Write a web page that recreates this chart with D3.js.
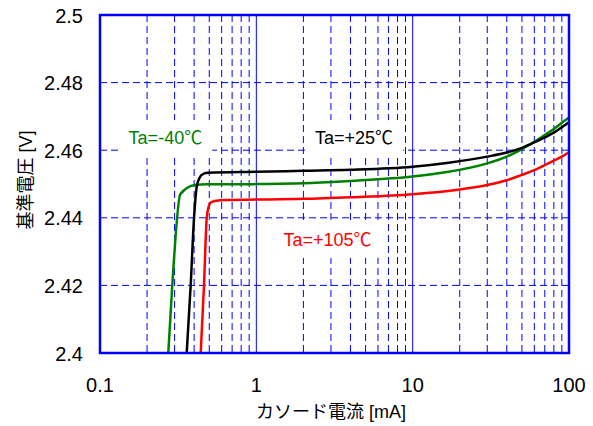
<!DOCTYPE html>
<html>
<head>
<meta charset="utf-8">
<script src="https://cdn.jsdelivr.net/npm/d3@7"></script>
<style>
body { margin: 0; background: #fff; }
</style>
</head>
<body>
<div id="chart"></div>
<script>
//////////
// Data //
//////////

// Ta=-40C
var currentCold = [0.2734, 0.290, 0.3265, 0.405, 0.4815, 0.911, 1, 2, 4, 10, 17, 30, 40, 50, 60, 70, 80, 90, 100];
var voltageCold = [2.4, 2.4201, 2.4470, 2.4497, 2.4499, 2.4499, 2.4500, 2.4502, 2.4509, 2.4522, 2.4536, 2.4561, 2.4581, 2.4603, 2.4625, 2.4645, 2.4663, 2.4681, 2.4697];

// Ta=+25C
var currentRoom = [0.3586, 0.3803, 0.3994, 0.4156, 0.4318, 0.4579, 0.4929, 1, 2, 4, 10, 17, 30, 40, 50, 60, 70, 80, 90, 100];
var voltageRoom = [2.4, 2.4201, 2.4399, 2.4492, 2.4517, 2.4530, 2.4533, 2.4536, 2.4539, 2.4542, 2.4551, 2.4563, 2.4581, 2.4593, 2.4607, 2.4623, 2.4638, 2.4652, 2.4668, 2.4683];

// Ta=+105C
var currentHot = [0.4407, 0.4627, 0.4815, 0.4958, 0.5106, 0.5441, 0.6463, 1, 2, 4, 10, 20, 30, 40, 50, 60, 70, 80, 90, 100];
var voltageHot = [2.4, 2.4201, 2.4399, 2.4433, 2.4445, 2.4450, 2.4453, 2.4454, 2.4456, 2.4461, 2.4470, 2.4484, 2.4497, 2.4511, 2.4527, 2.4541, 2.4556, 2.4569, 2.4581, 2.4594];

// Axis ticks
var xTicks = [0.1, 1, 10, 100];
var xTickLabels = ["0.1", "1", "10", "100"];
var xMinorTicks = [0.2, 0.3, 0.4, 0.5, 0.6, 0.7, 0.8, 0.9, 2, 3, 4, 5, 6, 7, 8, 9, 20, 30, 40, 50, 60, 70, 80, 90];
var xMajorGrid = [1, 10];
var yTicks = [2.4, 2.42, 2.44, 2.46, 2.48, 2.5];
var yTickLabels = ["2.4", "2.42", "2.44", "2.46", "2.48", "2.5"];
var yGrid = [2.42, 2.44, 2.46, 2.48];

// Series labels
var seriesNames = ["Ta=-40\u2103", "Ta=+25\u2103", "Ta=+105\u2103"];
var seriesColors = ["#008000", "#000000", "#ff0000"];
var labelCurrent = [0.262, 4.21, 2.85];
var labelVoltage = [2.4618, 2.4618, 2.4317];

///////////////////
// Initial setup //
///////////////////

var width = 593;
var height = 426;
var margin = {top: 15, right: 24, bottom: 73, left: 100};
var plotW = width - margin.left - margin.right;
var plotH = height - margin.top - margin.bottom;
var latin = "'Liberation Sans', Arial, 'Noto Sans CJK JP', sans-serif";

var svg = d3.select("#chart").append("svg")
	.attr("width", width).attr("height", height);

var g = svg.append("g")
	.attr("transform", "translate(" + margin.left + "," + margin.top + ")");

var x = d3.scaleLog().domain([0.1, 100]).range([0, plotW]);
var y = d3.scaleLinear().domain([2.4, 2.5]).range([plotH, 0]);

// Grid
g.selectAll("line.vminor").data(xMinorTicks).enter().append("line")
	.attr("x1", function(d) { return x(d); })
	.attr("x2", function(d) { return x(d); })
	.attr("y1", 0).attr("y2", plotH)
	.attr("stroke", "#0000ff").attr("stroke-width", 1)
	.attr("stroke-dasharray", "7,4");

g.selectAll("line.vmajor").data(xMajorGrid).enter().append("line")
	.attr("x1", function(d) { return x(d); })
	.attr("x2", function(d) { return x(d); })
	.attr("y1", 0).attr("y2", plotH)
	.attr("stroke", "#0000ff").attr("stroke-width", 1);

g.selectAll("line.hgrid").data(yGrid).enter().append("line")
	.attr("x1", 0).attr("x2", plotW)
	.attr("y1", function(d) { return y(d); })
	.attr("y2", function(d) { return y(d); })
	.attr("stroke", "#0000ff").attr("stroke-width", 1)
	.attr("stroke-dasharray", "7,4");

// Label boxes (hide grid behind text)
var labels = g.selectAll("g.lbl").data(seriesNames).enter().append("g");
var labelTexts = labels.append("text")
	.text(function(d) { return d; })
	.attr("x", function(d, i) { return x(labelCurrent[i]); })
	.attr("y", function(d, i) { return y(labelVoltage[i]); })
	.attr("text-anchor", "middle")
	.attr("font-family", latin)
	.attr("font-size", "18px")
	.attr("fill", function(d, i) { return seriesColors[i]; });
labelTexts.each(function() {
	var b = this.getBBox();
	d3.select(this.parentNode).insert("rect", "text")
		.attr("x", b.x - 10).attr("y", b.y - 8)
		.attr("width", b.width + 20).attr("height", b.height + 16)
		.attr("fill", "#fff");
});

// Curves
var series = [
	{c: currentCold, v: voltageCold, color: seriesColors[0]},
	{c: currentRoom, v: voltageRoom, color: seriesColors[1]},
	{c: currentHot, v: voltageHot, color: seriesColors[2]}
];
var line = d3.line()
	.x(function(d) { return x(d[0]); })
	.y(function(d) { return y(d[1]); })
	.curve(d3.curveMonotoneX);

g.selectAll("path.curve").data(series).enter().append("path")
	.attr("d", function(s) { return line(d3.zip(s.c, s.v)); })
	.attr("fill", "none")
	.attr("stroke", function(s) { return s.color; })
	.attr("stroke-width", 2.5)
	.attr("stroke-linejoin", "round");

// Frame
g.append("rect")
	.attr("x", 0).attr("y", 0).attr("width", plotW).attr("height", plotH)
	.attr("fill", "none").attr("stroke", "#0000ff").attr("stroke-width", 2.5);

// Tick labels
g.selectAll("text.xt").data(xTicks).enter().append("text")
	.text(function(d, i) { return xTickLabels[i]; })
	.attr("x", function(d) { return x(d); })
	.attr("y", plotH + 39)
	.attr("text-anchor", "middle")
	.attr("font-family", latin).attr("font-size", "20px").attr("fill", "#000");

g.selectAll("text.yt").data(yTicks).enter().append("text")
	.text(function(d, i) { return yTickLabels[i]; })
	.attr("x", -17)
	.attr("y", function(d) { return y(d) + 7.5; })
	.attr("text-anchor", "end")
	.attr("font-family", latin).attr("font-size", "20px").attr("fill", "#000");

// Axis titles
svg.append("text")
	.text("カソード電流 [mA]")
	.attr("x", 331).attr("y", 418)
	.attr("text-anchor", "middle")
	.attr("font-family", latin).attr("font-size", "18px").attr("fill", "#000");

svg.append("text")
	.text("基準電圧 [V]")
	.attr("transform", "translate(32,180) rotate(-90)")
	.attr("text-anchor", "middle")
	.attr("font-family", latin).attr("font-size", "18px").attr("fill", "#000");
</script>
</body>
</html>
